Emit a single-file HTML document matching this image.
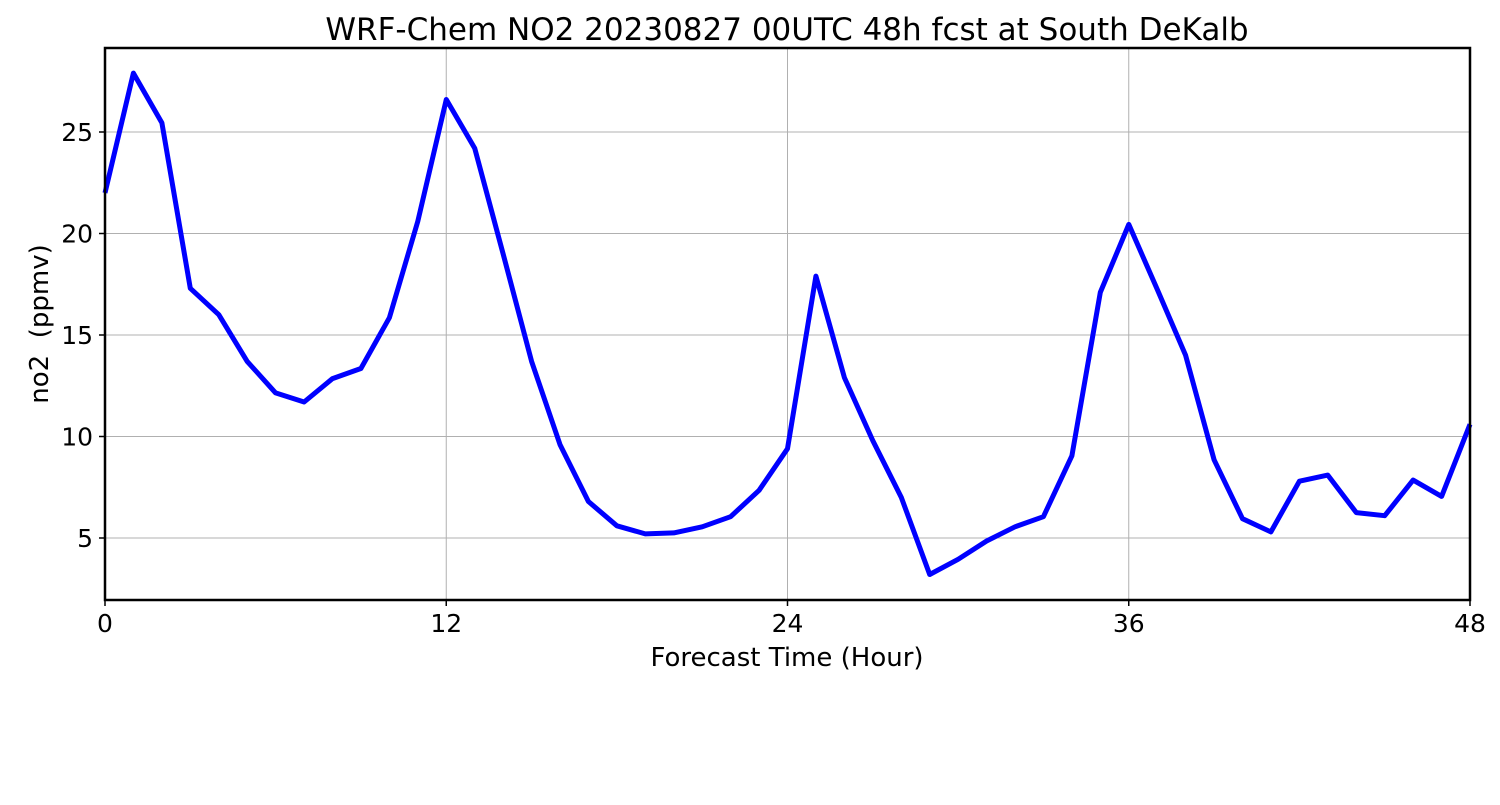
<!DOCTYPE html>
<html><head><meta charset="utf-8"><style>
body{margin:0;background:#fff;width:1500px;height:800px;overflow:hidden}
text{font-family:"DejaVu Sans","Liberation Sans",sans-serif;fill:#000}
</style></head><body>
<svg id="chart" width="1500" height="800" xmlns="http://www.w3.org/2000/svg">
<rect width="1500" height="800" fill="#fff"/>
<g id="grid"></g>
<g id="ticks"></g>
<path id="line" fill="none" stroke="#0000ff" stroke-width="5" stroke-linejoin="round"/>
<rect x="105" y="48" width="1365" height="552" fill="none" stroke="#000" stroke-width="2.5"/>
<text x="787" y="40" font-size="31" text-anchor="middle">WRF-Chem NO2  20230827 00UTC 48h fcst at South DeKalb</text>
<text x="787" y="666" font-size="26" text-anchor="middle">Forecast Time (Hour)</text>
<text transform="translate(48,324) rotate(-90)" font-size="26" text-anchor="middle" xml:space="preserve">no2  (ppmv)</text>
</svg>
<script>
const hours=[0,1,2,3,4,5,6,7,8,9,10,11,12,13,14,15,16,17,18,19,20,21,22,23,24,25,26,27,28,29,30,31,32,33,34,35,36,37,38,39,40,41,42,43,44,45,46,47,48];
const no2=[22.0,27.9,25.45,17.3,16.0,13.7,12.15,11.7,12.85,13.35,15.85,20.6,26.6,24.2,19.0,13.7,9.6,6.8,5.6,5.2,5.25,5.55,6.05,7.35,9.4,17.9,12.9,9.8,7.0,3.2,3.95,4.85,5.55,6.05,9.05,17.1,20.45,17.25,14.0,8.85,5.95,5.3,7.8,8.1,6.25,6.1,7.85,7.05,10.6];
const xTicks=[0,12,24,36,48];
const yTicks=[5,10,15,20,25];
const X=h=>105+(h-0)/48*1365;
const Y=v=>538-(v-5)*20.3;
const ns="http://www.w3.org/2000/svg";
const g=document.getElementById('grid'),t=document.getElementById('ticks');
xTicks.forEach(v=>{
 const l=document.createElementNS(ns,'line');
 
 
 l.setAttribute('x1',X(v));l.setAttribute('x2',X(v));l.setAttribute('y1',48);l.setAttribute('y2',600);
 l.setAttribute('stroke','#b0b0b0');l.setAttribute('stroke-width','1');g.appendChild(l);
 const k=document.createElementNS(ns,'line');
 
 
 k.setAttribute('x1',X(v));k.setAttribute('x2',X(v));k.setAttribute('y1',600);k.setAttribute('y2',606);
 k.setAttribute('stroke','#000');k.setAttribute('stroke-width','1.5');t.appendChild(k);
 const s=document.createElementNS(ns,'text');
 
 
 s.setAttribute('x',X(v));s.setAttribute('y',632);s.setAttribute('font-size','25');s.setAttribute('text-anchor','middle');
 s.textContent=v;t.appendChild(s);
});
yTicks.forEach(v=>{
 const l=document.createElementNS(ns,'line');
 
 
 l.setAttribute('x1',105);l.setAttribute('x2',1470);l.setAttribute('y1',Y(v));l.setAttribute('y2',Y(v));
 l.setAttribute('stroke','#b0b0b0');l.setAttribute('stroke-width','1');g.appendChild(l);
 const k=document.createElementNS(ns,'line');
 
 
 k.setAttribute('x1',99);k.setAttribute('x2',105);k.setAttribute('y1',Y(v));k.setAttribute('y2',Y(v));
 k.setAttribute('stroke','#000');k.setAttribute('stroke-width','1.5');t.appendChild(k);
 const s=document.createElementNS(ns,'text');
 
 
 s.setAttribute('x',93);s.setAttribute('y',Y(v)+9);s.setAttribute('font-size','25');s.setAttribute('text-anchor','end');
 s.textContent=v;t.appendChild(s);
});
document.getElementById('line').setAttribute('d',hours.map((h,i)=>(i?'L':'M')+X(h).toFixed(1)+','+Y(no2[i]).toFixed(1)).join(''));
</script>
</body></html>
